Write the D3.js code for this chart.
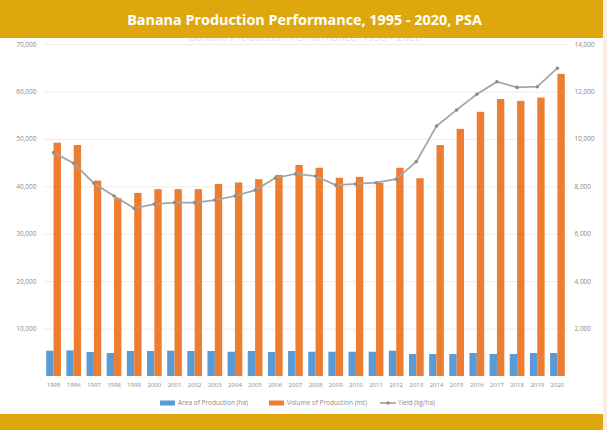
<!DOCTYPE html>
<html>
<head>
<meta charset="utf-8">
<script src="https://cdn.jsdelivr.net/npm/d3@7"></script>
<style>
    html, body { margin: 0; padding: 0; background: #fff; }
    svg { display: block; }
    text { font-family: "Open Sans", "Liberation Sans", sans-serif; }
</style>
</head>
<body>
<svg id="chart" width="607" height="430"></svg>
<script>
// Data
const years = ['1995', '1996', '1997', '1998', '1999', '2000', '2001', '2002', '2003', '2004', '2005', '2006', '2007',
               '2008', '2009', '2010', '2011', '2012', '2013', '2014', '2015', '2016', '2017', '2018', '2019', '2020'];
const area = [5330, 5400, 5060, 4850, 5270, 5270, 5330, 5270, 5270, 5120, 5270, 5060, 5270,
              5120, 5120, 5120, 5120, 5330, 4640, 4640, 4640, 4850, 4640, 4640, 4850, 4850];
const volume = [49200, 48700, 41200, 37500, 38600, 39400, 39400, 39400, 40500, 40800, 41500, 42400, 44500,
                43900, 41800, 42000, 40700, 43900, 41700, 48700, 52100, 55700, 58400, 58000, 58700, 63700];
const yieldPerHa = [9420, 8970, 8130, 7590, 7070, 7250, 7310, 7310, 7420, 7590, 7840, 8350, 8520,
                    8430, 8050, 8100, 8150, 8300, 9040, 10540, 11220, 11880, 12410, 12170, 12200, 12980];
const leftTicks = [10000, 20000, 30000, 40000, 50000, 60000, 70000];
const rightTicks = [2000, 4000, 6000, 8000, 10000, 12000, 14000];
const seriesNames = ['Area of Production (ha)', 'Volume of Production (mt)', 'Yield (kg/ha)'];
const title = 'Banana Production Performance, 1995 - 2020, PSA';

const gold = '#dfa70e';
const blue = '#5b9bd5';
const orange = '#ed7d31';
const grey = '#a5a5a5';

const svg = d3.select('#chart');

// plot box
const plotLeft = 43.5, plotRight = 567.5, plotTop = 44, plotBottom = 376;

const x0 = d3.scaleBand().domain(years).range([plotLeft, plotRight]).paddingInner(0.27).paddingOuter(0.135);
const x1 = d3.scaleBand().domain([0, 1]).range([0, x0.bandwidth()]);
const yL = d3.scaleLinear().domain([0, 70000]).range([plotBottom, plotTop]);
const yR = d3.scaleLinear().domain([0, 14000]).range([plotBottom, plotTop]);

// faint excel title peeking under the banner
svg.append('text')
    .attr('x', 305).attr('y', 40.5)
    .attr('text-anchor', 'middle')
    .attr('font-size', 11)
    .attr('fill', '#dedede')
    .text('Banana Production Performance, 1995 - 2020');

// pink strip on the right edge
svg.append('rect').attr('x', 603).attr('y', 0).attr('width', 4).attr('height', 430).attr('fill', '#fcece6');

// gridlines
svg.append('g')
    .selectAll('line')
    .data(leftTicks)
    .join('line')
    .attr('x1', plotLeft).attr('x2', plotRight)
    .attr('y1', d => yL(d) + 0.5).attr('y2', d => yL(d) + 0.5)
    .attr('stroke', '#ececec');

// left axis
const axL = svg.append('g')
    .attr('transform', `translate(${plotLeft},0)`)
    .call(d3.axisLeft(yL).tickValues(leftTicks).tickFormat(d3.format(',')).tickSize(0).tickPadding(7));
axL.select('.domain').remove();
axL.selectAll('text').attr('font-size', 6.5).attr('fill', '#8a8a8a').style('font-family', '"Open Sans", sans-serif');

// right axis
const axR = svg.append('g')
    .attr('transform', `translate(${plotRight},0)`)
    .call(d3.axisRight(yR).tickValues(rightTicks).tickFormat(d3.format(',')).tickSize(0).tickPadding(7));
axR.select('.domain').remove();
axR.selectAll('text').attr('font-size', 6.5).attr('fill', '#8a8a8a').style('font-family', '"Open Sans", sans-serif');

// bars
const groups = svg.append('g')
    .selectAll('g')
    .data(years)
    .join('g')
    .attr('transform', d => `translate(${x0(d)},0)`);

groups.append('rect')
    .attr('x', x1(0))
    .attr('y', (d, i) => yL(area[i]))
    .attr('width', x1.bandwidth())
    .attr('height', (d, i) => plotBottom - yL(area[i]))
    .attr('fill', blue);

groups.append('rect')
    .attr('x', x1(1))
    .attr('y', (d, i) => yL(volume[i]))
    .attr('width', x1.bandwidth())
    .attr('height', (d, i) => plotBottom - yL(volume[i]))
    .attr('fill', orange);

// yield line on the right axis
const cx = d => x0(d) + x0.bandwidth() / 2;
const line = d3.line()
    .x((d, i) => cx(years[i]))
    .y(d => yR(d));

svg.append('path')
    .datum(yieldPerHa)
    .attr('d', line)
    .attr('fill', 'none')
    .attr('stroke', grey)
    .attr('stroke-width', 1.75);

svg.append('g')
    .selectAll('circle')
    .data(yieldPerHa)
    .join('circle')
    .attr('cx', (d, i) => cx(years[i]))
    .attr('cy', d => yR(d))
    .attr('r', 1.8)
    .attr('fill', '#8c8c8c');

// year labels
const axX = svg.append('g')
    .attr('transform', `translate(0,${plotBottom})`)
    .call(d3.axisBottom(x0).tickSize(0).tickPadding(7));
axX.select('.domain').remove();
axX.selectAll('text').attr('font-size', 6).attr('fill', '#8a8a8a').style('font-family', '"Open Sans", sans-serif');

// legend
const legend = svg.append('g').attr('transform', 'translate(0,403)');
const legendX = [160, 269, 380];
const colors = [blue, orange, grey];
seriesNames.forEach((name, i) => {
    const g = legend.append('g').attr('transform', `translate(${legendX[i]},0)`);
    if (i < 2) {
        g.append('rect').attr('x', 0).attr('y', -2.5).attr('width', 15).attr('height', 5).attr('fill', colors[i]);
    } else {
        g.append('line').attr('x1', 0).attr('x2', 16).attr('y1', 0).attr('y2', 0)
            .attr('stroke', grey).attr('stroke-width', 1.75);
        g.append('circle').attr('cx', 8).attr('cy', 0).attr('r', 1.8).attr('fill', '#8c8c8c');
    }
    g.append('text')
        .attr('x', 18).attr('y', 2.3)
        .attr('font-size', 6.5)
        .attr('fill', '#8a8a8a')
        .text(name);
});

// title banner
svg.append('rect').attr('x', 0).attr('y', 0).attr('width', 603).attr('height', 38).attr('fill', gold);
const t = svg.append('text')
    .attr('x', 304.5).attr('y', 24.5)
    .attr('text-anchor', 'middle')
    .attr('font-size', 14)
    .attr('font-weight', 700)
    .attr('fill', '#fff')
    .text(title);
// stretch the title to the width seen in the picture
const w = t.node().getComputedTextLength();
t.attr('font-size', 14 * 355 / w);

// bottom banner
svg.append('rect').attr('x', 0).attr('y', 414).attr('width', 603).attr('height', 16).attr('fill', gold);
</script>
</body>
</html>
